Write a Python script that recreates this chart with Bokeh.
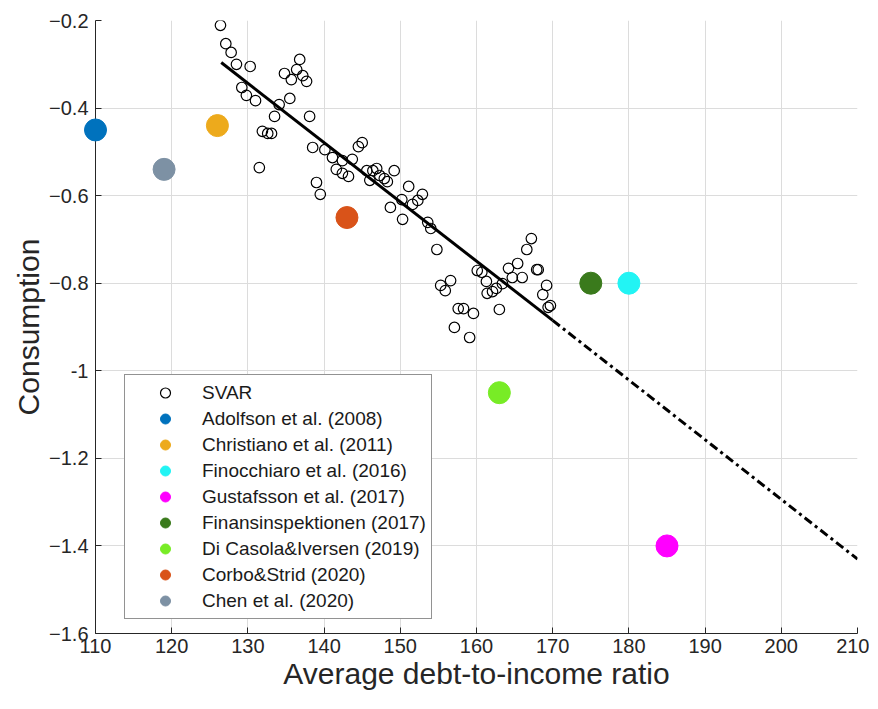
from bokeh.plotting import figure
from bokeh.models import ColumnDataSource, Legend, LegendItem, FixedTicker, Range1d, Spacer
from bokeh.layouts import column, row
from bokeh.embed import file_html
from bokeh.resources import INLINE

# ---- data ----
svar_x = [126.4, 127.1, 127.8, 128.5, 130.3, 136.8, 134.8, 136.4, 135.7, 137.2,
          137.7, 129.2, 129.8, 131.0, 134.1, 135.5, 133.5, 138.1, 131.9, 132.6,
          133.1, 131.5, 138.5, 140.1, 141.1, 144.5, 145.0, 142.4, 141.6, 142.4,
          143.2, 143.7, 145.6, 146.4, 146.9, 146.0, 147.3, 147.9, 148.3, 149.2,
          139.0, 139.5, 151.1, 152.9, 152.3, 151.6, 150.2, 148.7, 150.3, 153.6,
          154.0, 154.8, 155.3, 156.6, 155.9, 157.6, 158.3, 159.6, 157.1, 159.1,
          160.1, 160.7, 161.3, 161.4, 162.1, 162.6, 163.4, 163.0, 164.2, 165.4,
          166.6, 167.2, 167.9, 168.1, 164.7, 166.0, 169.2, 168.7, 169.7, 169.4]
svar_y = [-0.211, -0.253, -0.273, -0.300, -0.305, -0.289, -0.321, -0.312, -0.335, -0.326,
          -0.339, -0.353, -0.371, -0.383, -0.392, -0.378, -0.419, -0.419, -0.453, -0.458,
          -0.458, -0.536, -0.490, -0.495, -0.513, -0.488, -0.479, -0.520, -0.540, -0.549,
          -0.556, -0.517, -0.543, -0.543, -0.538, -0.565, -0.554, -0.561, -0.568, -0.543,
          -0.570, -0.597, -0.579, -0.597, -0.611, -0.620, -0.609, -0.627, -0.654, -0.661,
          -0.675, -0.723, -0.805, -0.794, -0.817, -0.858, -0.858, -0.869, -0.901, -0.924,
          -0.771, -0.775, -0.796, -0.823, -0.819, -0.812, -0.801, -0.860, -0.766, -0.755,
          -0.723, -0.698, -0.769, -0.769, -0.787, -0.787, -0.805, -0.826, -0.851, -0.855]

fit_x = [126.5, 170.0]
fit_y = [-0.296, -0.885]
ext_x = [170.0, 210.0]
ext_y = [-0.885, -1.430]

study_names = ["Adolfson et al. (2008)", "Christiano et al. (2011)", "Finocchiaro et al. (2016)",
               "Gustafsson et al. (2017)", "Finansinspektionen (2017)", "Di Casola&Iversen (2019)",
               "Corbo&Strid (2020)", "Chen et al. (2020)"]
study_x = [110, 126, 180, 185, 175, 163, 143, 119]
study_y = [-0.45, -0.44, -0.80, -1.40, -0.80, -1.05, -0.65, -0.54]
study_colors = ["#0072BD", "#EDAA1C", "#22F4F4", "#FF00FF", "#3A7A1C", "#78EC26", "#D95319", "#7D91A4"]

x_ticks = [110, 120, 130, 140, 150, 160, 170, 180, 190, 200, 210]
y_ticks = [-1.6, -1.4, -1.2, -1.0, -0.8, -0.6, -0.4, -0.2]

FONT = "Liberation Sans"

p = figure(width=862, height=692,
           x_range=Range1d(110, 210), y_range=Range1d(-1.6, -0.2),
           output_backend="svg", toolbar_location=None,
           min_border_left=88, min_border_top=12, min_border_right=12, min_border_bottom=67)
p.outline_line_color = None
p.background_fill_color = "white"
p.border_fill_color = "white"

src = ColumnDataSource(dict(x=svar_x, y=svar_y))
r_svar = p.scatter("x", "y", source=src, marker="circle", size=10.5,
                   fill_color=None, line_color="black", line_width=1.2)

p.line(fit_x, fit_y, line_color="black", line_width=3)
p.line(ext_x, ext_y, line_color="black", line_width=3, line_dash="9 4 3 4")

items = [LegendItem(label="SVAR", renderers=[r_svar])]
for name, sx, sy, c in zip(study_names, study_x, study_y, study_colors):
    r = p.scatter([sx], [sy], marker="circle", size=22, fill_color=c, line_color=c,
                  level="overlay")
    items.append(LegendItem(label=name, renderers=[r]))

legend = Legend(items=items, location=(29, 14))
legend.padding = 5
legend.glyph_width = 70
legend.glyph_height = 25
legend.label_height = 25
legend.spacing = 1
legend.label_standoff = 2
legend.label_text_font = FONT
legend.label_text_font_size = "19px"
legend.label_text_color = "#1a1a1a"
legend.border_line_color = "#262626"
legend.border_line_width = 1
legend.background_fill_alpha = 1.0
legend.margin = 0
p.add_layout(legend, "center")

for ax in (p.xaxis[0], p.yaxis[0]):
    ax.axis_line_color = "#262626"
    ax.axis_line_width = 1
    ax.major_tick_line_color = "#262626"
    ax.major_tick_in = 6
    ax.major_tick_out = 0
    ax.minor_tick_line_color = None
    ax.major_label_text_font = FONT
    ax.major_label_text_font_size = "20px"
    ax.major_label_text_color = "#262626"
    ax.axis_label_text_font = FONT
    ax.axis_label_text_font_size = "30px"
    ax.axis_label_text_font_style = "normal"
    ax.axis_label_text_color = "#262626"

p.xaxis[0].major_label_standoff = 5
p.yaxis[0].major_label_standoff = 7
p.xaxis[0].ticker = FixedTicker(ticks=x_ticks)
p.yaxis[0].ticker = FixedTicker(ticks=y_ticks)
p.yaxis[0].major_label_overrides = {-1.0: "-1"}
p.xaxis[0].axis_label = "Average debt-to-income ratio"
p.yaxis[0].axis_label = "Consumption"
p.xaxis[0].axis_label_standoff = 1
p.yaxis[0].axis_label_standoff = 1

p.xgrid[0].ticker = FixedTicker(ticks=x_ticks)
p.ygrid[0].ticker = FixedTicker(ticks=y_ticks)
for g in (p.xgrid[0], p.ygrid[0]):
    g.grid_line_color = "#DCDCDC"
    g.grid_line_width = 1

layout = column(Spacer(height=8), row(Spacer(width=7), p))
open("out.html", "w").write(file_html(layout, INLINE))
